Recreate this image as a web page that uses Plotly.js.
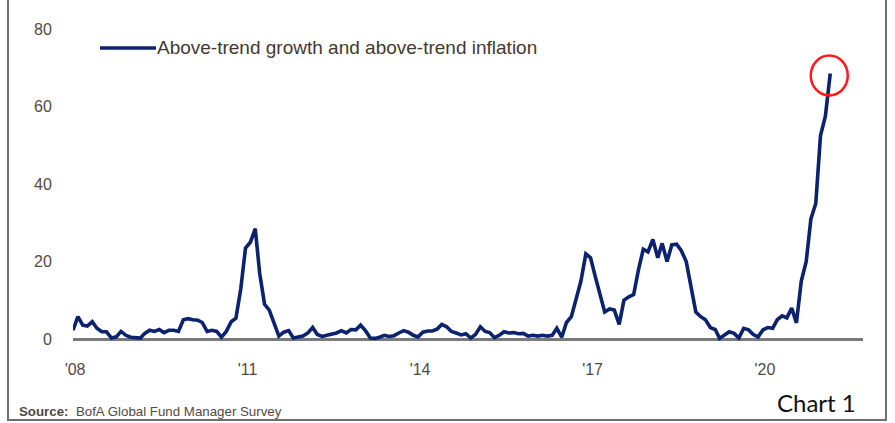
<!DOCTYPE html>
<html>
<head>
<meta charset="utf-8">
<script src="https://cdn.plot.ly/plotly-3.0.1.min.js"></script>
<style>
  html, body { margin: 0; padding: 0; background: #fff; }
  #wrap { position: relative; width: 895px; height: 423px; }
  #chart { width: 895px; height: 423px; }
  #frame { position: absolute; left: 7px; top: -3px; width: 880px; height: 424px;
           border-left: 2px solid #6f6f6f; border-right: 2px solid #6f6f6f; border-bottom: 2px solid #6f6f6f;
           box-sizing: border-box; pointer-events: none; }
</style>
</head>
<body>
<div id="wrap">
  <div id="chart"></div>
  <div id="frame"></div>
</div>
<script>
// Monthly series, starting Dec 2007
const startYear = 2007;
const startMonth = 12;
const seriesName = 'Above-trend growth and above-trend inflation';
const values = [
  2.3, 5.8, 3.6, 3.4, 4.5, 2.8, 1.9, 1.9, 0.3, 0.6, 2.0, 1.0,
  0.5, 0.3, 0.3, 1.5, 2.3, 2.0, 2.5, 1.7, 2.3, 2.3, 2.0, 5.0,
  5.3, 5.0, 4.9, 4.3, 2.0, 2.3, 2.0, 0.5, 2.0, 4.5, 5.4, 13.0,
  23.5, 25.0, 28.5, 17.0, 9.0, 7.5, 4.0, 0.8, 1.8, 2.2, 0.3, 0.5,
  0.8, 1.6, 3.0, 1.2, 0.7, 1.0, 1.2, 1.6, 2.2, 1.6, 2.5, 2.4,
  3.6, 2.2, 0.3, 0.2, 0.5, 1.0, 0.7, 0.9, 1.6, 2.2, 1.8, 1.0,
  0.6, 1.8, 2.1, 2.1, 2.6, 3.8, 3.2, 2.0, 1.6, 1.1, 1.4, 0.3,
  1.2, 3.2, 2.0, 1.7, 0.4, 1.0, 1.9, 1.6, 1.7, 1.4, 1.5, 0.8,
  1.0, 0.8, 1.0, 0.8, 1.0, 2.8, 0.5, 4.3, 5.8, 10.3, 15.0, 22.0,
  21.0, 16.0, 11.4, 7.0, 7.8, 7.5, 3.8, 10.0, 10.9, 11.5, 17.8, 23.2,
  22.5, 25.7, 21.0, 24.7, 20.0, 24.3, 24.5, 22.8, 20.0, 13.0, 7.0, 5.8,
  5.0, 3.0, 2.5, 0.2, 1.0, 1.9, 1.5, 0.3, 2.8, 2.4, 1.2, 0.6,
  2.4, 3.0, 2.8, 5.0, 6.0, 5.5, 8.0, 4.2, 15.0, 20.0, 31.0, 35.0,
  52.5, 57.5, 68.5
];
const tickDates = ['2007-12-14', '2010-12-14', '2013-12-14', '2016-12-14', '2019-12-14'];
const tickLabels = ["'08", "'11", "'14", "'17", "'20"];
const yTicks = [0, 20, 40, 60, 80];

const dates = values.map((v, i) => {
  const m0 = startMonth - 1 + i;
  const y = startYear + Math.floor(m0 / 12);
  const m = (m0 % 12) + 1;
  return y + '-' + String(m).padStart(2, '0') + '-01';
});

const navy = '#0b2270';
const tickFont = { family: 'Liberation Sans, Arial, sans-serif', size: 16, color: '#55493f' };

const trace = {
  x: dates, y: values, type: 'scatter', mode: 'lines', name: seriesName,
  line: { color: navy, width: 3.6 }, showlegend: false, cliponaxis: false
};

const lastX = dates[dates.length - 1];
const lastY = values[values.length - 1];

const layout = {
  width: 895, height: 423,
  margin: { l: 73, r: 32, t: 20, b: 78 },
  paper_bgcolor: '#fff', plot_bgcolor: '#fff',
  xaxis: {
    type: 'date', range: ['2007-12-01', '2021-08-28'],
    tickvals: tickDates, ticktext: tickLabels,
    showgrid: false, zeroline: false, showline: false,
    ticks: 'outside', ticklen: 10, tickcolor: 'rgba(0,0,0,0)',
    tickfont: tickFont
  },
  yaxis: {
    range: [-1.5, 82.3], tickvals: yTicks,
    showgrid: false, zeroline: true, zerolinecolor: '#7a7a7a', zerolinewidth: 3,
    showline: false, ticks: 'outside', ticklen: 17, tickcolor: 'rgba(0,0,0,0)',
    tickfont: tickFont
  },
  shapes: [
    { type: 'circle', xref: 'x', yref: 'y', xsizemode: 'pixel', ysizemode: 'pixel',
      xanchor: lastX, yanchor: lastY, x0: -19.5, x1: 17.5, y0: -22, y1: 18,
      line: { color: '#ff1a1a', width: 2.5 } },
    { type: 'line', xref: 'paper', yref: 'paper', x0: (100 - 73) / 790, x1: (156 - 73) / 790,
      y0: (345 - 48) / 325, y1: (345 - 48) / 325, line: { color: navy, width: 3.5 } }
  ],
  annotations: [
    { text: seriesName, xref: 'paper', yref: 'paper', x: (155 - 73) / 790, y: (345 - 48) / 325,
      xanchor: 'left', yanchor: 'middle', showarrow: false,
      font: { family: 'Liberation Sans, Arial, sans-serif', size: 19, color: '#44392f' } },
    { text: '<b>Source:</b>  BofA Global Fund Manager Survey', xref: 'paper', yref: 'paper',
      x: (17 - 73) / 790, y: (345 - 411) / 325, xanchor: 'left', yanchor: 'middle', showarrow: false,
      font: { family: 'Liberation Sans Narrow, Liberation Sans, Arial, sans-serif', size: 13.3, color: '#55493f' } },
    { text: 'Chart 1', xref: 'paper', yref: 'paper',
      x: (858 - 73) / 790, y: (345 - 402) / 325, xanchor: 'right', yanchor: 'middle', showarrow: false,
      font: { family: 'Lato, Noto Sans, sans-serif', size: 24, color: '#111' } }
  ]
};

Plotly.newPlot('chart', [trace], layout, { displayModeBar: false, staticPlot: true });
</script>
</body>
</html>
